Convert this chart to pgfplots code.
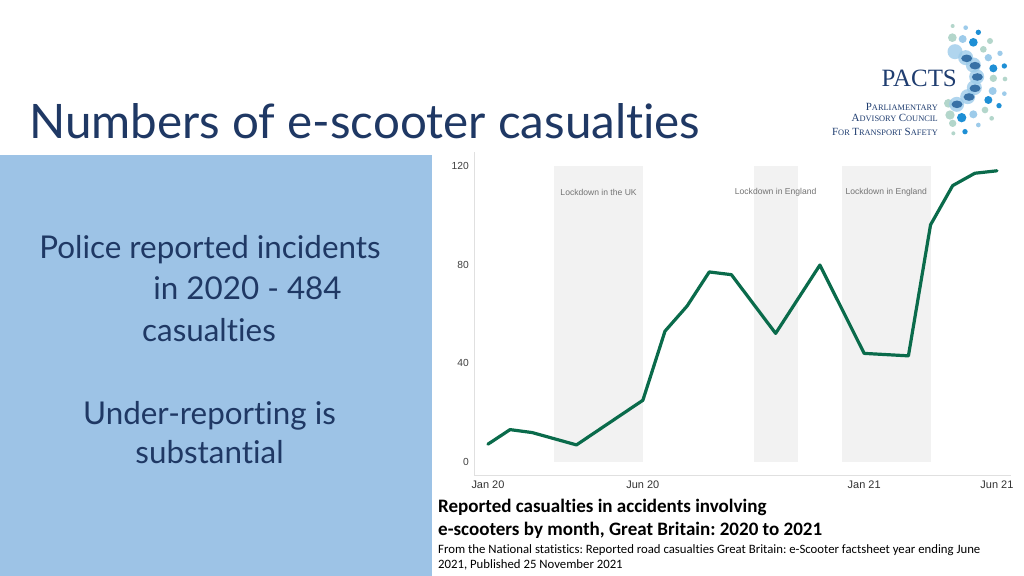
\documentclass[border=0pt]{standalone}
\usepackage{pgfplots}
\pgfplotsset{compat=1.18}
\usepackage{fontspec}
\setmainfont{Lato}[Ligatures=NoCommon]
\newfontfamily\arial{Liberation Sans}
\newfontfamily\calibri{Carlito}[Ligatures=NoCommon]
\newfontfamily\serif{Liberation Serif}
\frenchspacing
\definecolor{navy}{HTML}{1F3864}
\definecolor{logonavy}{HTML}{1F3D70}
\definecolor{panel}{HTML}{9DC3E6}
\definecolor{lgreen}{HTML}{0A6B4B}
\definecolor{band}{HTML}{F2F2F2}
\definecolor{dotlg}{HTML}{B3D6CB}
\definecolor{dotlb}{HTML}{9DCBEA}
\definecolor{dotb}{HTML}{1E8FD5}
\definecolor{dotdb}{HTML}{10508F}
\newcommand\fsc[2]{{\fontsize{11}{11}\selectfont #1}{\fontsize{8.4}{9}\selectfont #2}}
\begin{document}
\begin{tikzpicture}[x=1bp,y=1bp]
\useasboundingbox (0,0) rectangle (1024,-576);
\fill[white] (0,0) rectangle (1024,-576);
\fill[panel] (0,-155) rectangle (432,-576);
% title
\node[anchor=base west, inner sep=0pt, text=navy, font=\fontsize{47.7}{50}\selectfont] at (29,-139) {Numbers of e-scooter casualties};
% panel text
\begin{scope}[every node/.style={anchor=base, inner sep=0pt, text=navy, font=\fontsize{31.5}{32}\selectfont}]
\node at (210,-259) {Police reported incidents};
\node at (247.5,-300) {in 2020 - 484};
\node at (209,-341) {casualties};
\node at (209.5,-424) {Under-reporting is};
\node at (209.5,-463) {substantial};
\end{scope}
% chart
\begin{axis}[at={(474bp,-475.5bp)}, anchor=south west, scale only axis,
  width=537.3bp, height=323.7bp,
  xmin=-0.63, xmax=23.65, ymin=-5.5, ymax=125.7,
  axis x line*=bottom, axis y line*=left,
  axis line style={draw=black!12, line width=0.8bp},
  xtick={0,7,17,23}, xticklabels={Jan 20,Jun 20,Jan 21,Jun 21},
  ytick={0,40,80,120},
  major tick length=0pt, tick style={draw=none},
  /pgf/number format/assume math mode=true,
  xticklabel style={font=\arial\fontsize{11}{12}\selectfont, text=black!80, inner sep=0pt, anchor=base, yshift=-12.5bp},
  yticklabel style={font=\arial\fontsize{10.3}{11}\selectfont, text=black!75, inner sep=0pt, anchor=east, xshift=-5bp},
  clip=false]
\addplot[fill=band, draw=none] coordinates {(3,0) (3,120) (7,120) (7,0)};
\addplot[fill=band, draw=none] coordinates {(12,0) (12,120) (14,120) (14,0)};
\addplot[fill=band, draw=none] coordinates {(16,0) (16,120) (20,120) (20,0)};
\node[font=\arial\fontsize{8.6}{9}\selectfont, text=black!55, inner sep=0pt] at (axis cs:5,109.3) {Lockdown in the UK};
\node[font=\arial\fontsize{8.6}{9}\selectfont, text=black!55, inner sep=0pt] at (axis cs:13,109.3) {Lockdown in England};
\node[font=\arial\fontsize{8.6}{9}\selectfont, text=black!55, inner sep=0pt] at (axis cs:18,109.3) {Lockdown in England};
\addplot[draw=lgreen, line width=3.2bp, line join=round, line cap=round, mark=none] coordinates {
(0,7.2) (1,13.1) (2,11.9) (4,6.9) (7,25.0) (8,53.0) (9,63.2) (10,77.0) (11,75.9)
(13,52.1) (15,79.8) (17,44.0) (19,43.0) (20,96.1) (21,112.0) (22,117.0) (23,118.0)};
\end{axis}
% caption
\node[anchor=base west, inner sep=0pt, font=\calibri\bfseries\fontsize{19.1}{20}\selectfont] at (438,-512) {Reported casualties in accidents involving};
\node[anchor=base west, inner sep=0pt, font=\calibri\bfseries\fontsize{19.1}{20}\selectfont] at (438,-535) {e-scooters by month, Great Britain: 2020 to 2021};
\node[anchor=base west, inner sep=0pt, font=\calibri\fontsize{12.8}{13}\selectfont] at (438,-553) {From the National statistics: Reported road casualties Great Britain: e-Scooter factsheet year ending June};
\node[anchor=base west, inner sep=0pt, font=\calibri\fontsize{12.8}{13}\selectfont] at (438,-568) {2021, Published 25 November 2021};
% logo
\begin{scope}[shift={(925,-15)}, x=0.33333bp, y=-0.33333bp]
\foreach \px/\py/\r/\c in {83/33/6/dotlg, 122/38/7/dotlb, 160/52/8/dotb,
  82/68/13/dotlg, 113/72/12/dotlb, 145/82/13/dotb, 195/78/9/dotlg,
  175/103/10/dotlg, 190/128/11/dotlb, 225/115/8/dotlb, 205/160/12/dotb, 238/153/8/dotb,
  205/190/11/dotlg, 240/192/7/dotlg, 203/228/12/dotlb, 238/236/7/dotlb,
  190/255/12/dotb, 222/272/8/dotb, 180/285/10/dotlg, 145/298/12/dotlb,
  110/308/14/dotb, 75/300/14/dotlg, 70/265/13/dotlg, 200/310/7/dotlg,
  83/325/11/dotlg, 120/350/8/dotb, 160/330/7/dotlb, 85/355/6/dotlg}
  {\fill[\c] (\px,\py) circle[radius=\r bp/3];}
\foreach \px/\py in {90/110, 122/128, 145/150, 155/185, 148/218, 128/245, 95/268}
  {\fill[dotlb, opacity=0.8] (\px,\py) circle[radius=7.5bp];}
\foreach \px/\py in {125/130, 150/152, 157/186, 150/220, 132/246, 96/268}
  {\fill[dotdb, opacity=0.75] (\px,\py) ellipse[x radius=5.5bp, y radius=3.8bp];}
\end{scope}
\node[anchor=base east, inner sep=0pt, text=logonavy, font=\serif\fontsize{25}{25}\selectfont] at (957,-87) {PACTS};
\node[anchor=base east, inner sep=0pt, text=logonavy, font=\serif] at (938,-111) {\fsc{P}{ARLIAMENTARY}};
\node[anchor=base east, inner sep=0pt, text=logonavy, font=\serif] at (938,-122) {\fsc{A}{DVISORY} \fsc{C}{OUNCIL}};
\node[anchor=base east, inner sep=0pt, text=logonavy, font=\serif] at (938,-136) {\fsc{F}{OR} \fsc{T}{RANSPORT} \fsc{S}{AFETY}};
\end{tikzpicture}
\end{document}
